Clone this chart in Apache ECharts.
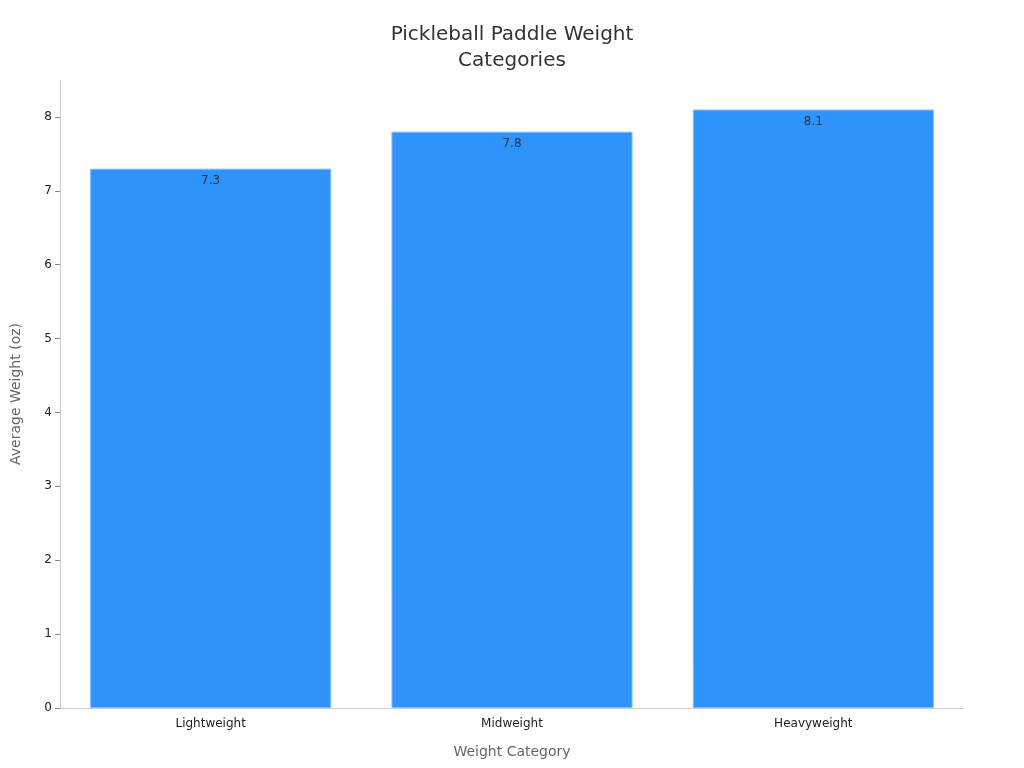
<!DOCTYPE html>
<html>
<head>
<meta charset="utf-8">
<script src="https://cdn.jsdelivr.net/npm/echarts@6/dist/echarts.min.js"></script>
<style>
  html, body { margin: 0; padding: 0; background: #fff; }
  #chart { width: 1024px; height: 768px; }
</style>
</head>
<body>
<div id="chart"></div>
<script>
// 数据
const categories = ['Lightweight', 'Midweight', 'Heavyweight'];
const weights = [7.3, 7.8, 8.1];
const yTicks = [0, 1, 2, 3, 4, 5, 6, 7, 8];

const font = 'DejaVu Sans';

var myChart = echarts.init(document.getElementById('chart'));

var option = {
    animation: false,
    title: {
        text: 'Pickleball Paddle Weight\nCategories',
        left: 'center',
        top: 17,
        textStyle: {
            fontFamily: font,
            fontSize: 20,
            fontWeight: 'normal',
            color: '#333',
            lineHeight: 26
        }
    },
    grid: {
        left: 60,
        right: 60,
        top: 80,
        bottom: 60,
        outerBoundsMode: 'none'
    },
    xAxis: {
        type: 'category',
        data: categories,
        name: 'Weight Category',
        nameLocation: 'middle',
        nameGap: 37,
        nameTextStyle: { fontFamily: font, fontSize: 14, color: '#666' },
        axisLine: { lineStyle: { color: '#ccc' } },
        axisTick: { alignWithLabel: true, length: 5, lineStyle: { color: '#333' } },
        axisLabel: { fontFamily: font, fontSize: 12, color: '#222', margin: 10 }
    },
    yAxis: {
        type: 'value',
        min: 0,
        max: 8.5,
        interval: 1,
        name: 'Average Weight (oz)',
        nameLocation: 'middle',
        nameGap: 37,
        nameTextStyle: { fontFamily: font, fontSize: 14, color: '#666' },
        axisLine: { show: true, lineStyle: { color: '#ccc' } },
        axisTick: { show: true, length: 5, customValues: yTicks, lineStyle: { color: '#888' } },
        axisLabel: {
            fontFamily: font,
            fontSize: 12,
            color: '#222',
            customValues: yTicks
        },
        splitLine: { show: false }
    },
    series: [
        {
            type: 'bar',
            data: weights,
            barWidth: '80%',
            itemStyle: {
                color: '#2E93FA',
                borderColor: '#7DBBFB',
                borderWidth: 1
            },
            label: {
                show: true,
                position: 'insideTop',
                distance: 6,
                fontFamily: font,
                fontSize: 12,
                color: '#333'
            }
        }
    ]
};

myChart.setOption(option);
</script>
</body>
</html>
